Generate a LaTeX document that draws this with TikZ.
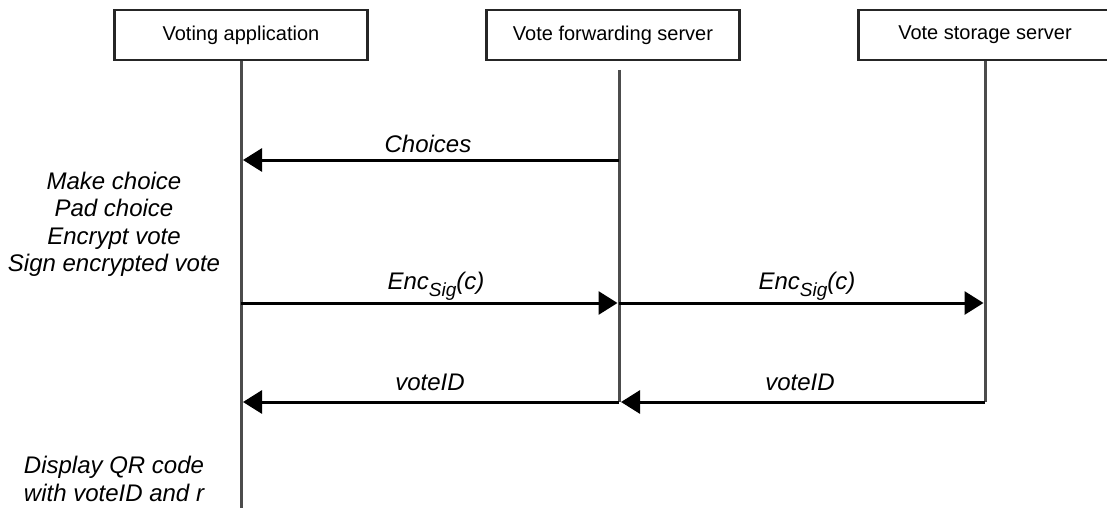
\documentclass[tikz,border=0pt]{standalone}
\usepackage{fontspec}
\setmainfont{Liberation Sans}
\usetikzlibrary{arrows.meta}
\newcommand{\subsig}{\raisebox{-0.3em}{\fontsize{19}{19}\selectfont Sig}}
\begin{document}
\begin{tikzpicture}[x=1pt,y=-1pt,
  actor/.style={draw=black!85, line width=2.5pt, minimum width=253pt, minimum height=50pt, inner sep=0pt, font=\fontsize{20}{24}\selectfont},
  life/.style={draw=black!70, line width=3pt},
  msg/.style={draw=black, line width=3pt, -{Triangle[length=19pt,width=23pt]}},
  lbl/.style={font=\fontsize{24}{28}\selectfont\itshape, inner sep=0pt},
  note/.style={font=\fontsize{24}{27.5}\selectfont\itshape, align=center, inner sep=0pt}]
\useasboundingbox (0,0) rectangle (1107,508);
% actors
\node[actor] (app) at (241,35) {Voting application};
\node[actor] (fwd) at (613,35) {Vote forwarding server};
\node[actor] (sto) at (985,35) {Vote storage server};
% lifeline coordinates
\coordinate (appTop) at (241,61);
\coordinate (appBot) at (241,512);
\coordinate (fwdTop) at (619,70);
\coordinate (fwdBot) at (619,402);
\coordinate (stoTop) at (985,61);
\coordinate (stoBot) at (985,402);
\draw[life] (appTop) -- (appBot);
\draw[life] (fwdTop) -- (fwdBot);
\draw[life] (stoTop) -- (stoBot);
% message end points
\coordinate (m1s) at (619,160);   \coordinate (m1e) at (243,160);
\coordinate (m2s) at (241,303);   \coordinate (m2e) at (617.5,303);
\coordinate (m3s) at (619,303);   \coordinate (m3e) at (983.5,303);
\coordinate (m4s) at (985,402);   \coordinate (m4e) at (621,402);
\coordinate (m5s) at (619,402);   \coordinate (m5e) at (243,402);
\draw[msg] (m1s) -- (m1e);
\draw[msg] (m2s) -- (m2e);
\draw[msg] (m3s) -- (m3e);
\draw[msg] (m4s) -- (m4e);
\draw[msg] (m5s) -- (m5e);
% labels
\node[lbl] (l1) at (428,144) {Choices};
\node[lbl] (l2) at (436,286) {Enc\subsig(c)};
\node[lbl] (l3) at (807,286) {Enc\subsig(c)};
\node[lbl] (l4) at (800,382) {voteID};
\node[lbl] (l5) at (430,382) {voteID};
% notes
\node[note] (n1) at (114,224.5) {Make choice\\Pad choice\\Encrypt vote\\Sign encrypted vote};
\node[note] (n2) at (114,479) {Display QR code\\with voteID and r};
\end{tikzpicture}
\end{document}
